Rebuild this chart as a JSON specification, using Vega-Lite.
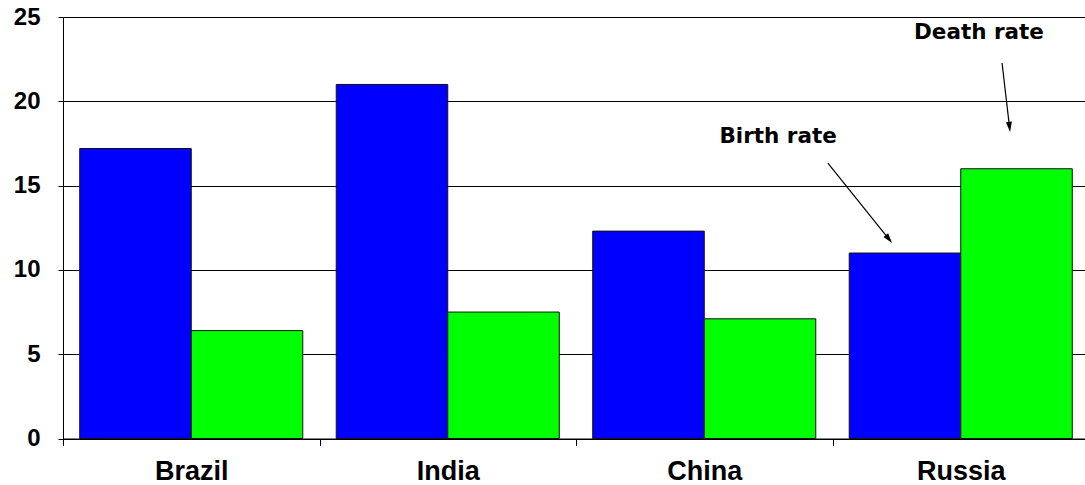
{
  "$schema": "https://vega.github.io/schema/vega-lite/v6.json",
  "width": 1026,
  "height": 421.5,
  "autosize": "none",
  "padding": {"left": 63, "top": 17, "right": 0, "bottom": 46.5},
  "background": "white",
  "config": {"view": {"stroke": null}, "font": "Liberation Sans"},
  "datasets": {
    "rates": [
      {"country": "Brazil", "rate": "Birth rate", "value": 17.2},
      {"country": "Brazil", "rate": "Death rate", "value": 6.4},
      {"country": "India", "rate": "Birth rate", "value": 21.0},
      {"country": "India", "rate": "Death rate", "value": 7.5},
      {"country": "China", "rate": "Birth rate", "value": 12.3},
      {"country": "China", "rate": "Death rate", "value": 7.1},
      {"country": "Russia", "rate": "Birth rate", "value": 11.0},
      {"country": "Russia", "rate": "Death rate", "value": 16.0}
    ],
    "notes": [
      {"note": "Birth rate", "tx": 2.788, "ty": 17.88, "ax": 2.982, "ay": 16.34, "hx": 3.22, "hy": 11.83},
      {"note": "Death rate", "tx": 3.571, "ty": 24.05, "ax": 3.661, "ay": 22.27, "hx": 3.69, "hy": 18.48}
    ]
  },
  "layer": [
    {
      "data": {"name": "rates"},
      "mark": {"type": "bar", "stroke": "#111111", "strokeWidth": 1},
      "encoding": {
        "x": {
          "field": "country",
          "type": "nominal",
          "sort": ["Brazil", "India", "China", "Russia"],
          "scale": {"paddingInner": 0, "paddingOuter": 0},
          "axis": {
            "title": null,
            "labelAngle": 0,
            "tickBand": "extent",
            "domainColor": "black",
            "domainWidth": 1,
            "tickColor": "black",
            "tickSize": 7,
            "labelFont": "Liberation Sans",
            "labelFontSize": 27,
            "labelFontWeight": "bold",
            "labelColor": "black",
            "labelPadding": 13
          }
        },
        "xOffset": {
          "field": "rate",
          "sort": ["Birth rate", "Death rate"],
          "scale": {"paddingInner": 0, "paddingOuter": 0.15}
        },
        "y": {
          "field": "value",
          "type": "quantitative",
          "scale": {"domain": [0, 25], "nice": false},
          "axis": {
            "title": null,
            "values": [0, 5, 10, 15, 20, 25],
            "grid": true,
            "gridColor": "black",
            "gridOpacity": 1,
            "gridWidth": 1,
            "domainColor": "black",
            "tickColor": "black",
            "tickSize": 5,
            "labelFont": "Liberation Sans",
            "labelFontSize": 24,
            "labelFontWeight": "bold",
            "labelColor": "black",
            "labelPadding": 18
          }
        },
        "color": {
          "field": "rate",
          "type": "nominal",
          "scale": {"domain": ["Birth rate", "Death rate"], "range": ["#0000FF", "#00FF00"]},
          "legend": null
        }
      }
    },
    {
      "data": {"name": "notes"},
      "mark": {"type": "text", "font": "DejaVu Sans", "fontSize": 21.5, "fontWeight": "bold", "color": "black", "align": "center", "baseline": "middle"},
      "encoding": {
        "x": {"field": "tx", "type": "quantitative", "scale": {"domain": [0, 4], "nice": false, "zero": false}, "axis": null},
        "y": {"field": "ty", "type": "quantitative"},
        "text": {"field": "note"}
      }
    },
    {
      "data": {"name": "notes"},
      "mark": {"type": "rule", "color": "black", "strokeWidth": 1.2},
      "encoding": {
        "x": {"field": "ax", "type": "quantitative", "scale": {"domain": [0, 4], "nice": false, "zero": false}, "axis": null},
        "y": {"field": "ay", "type": "quantitative"},
        "x2": {"field": "hx"},
        "y2": {"field": "hy"}
      }
    },
    {
      "data": {"name": "notes"},
      "transform": [{"filter": "datum.note == 'Birth rate'"}],
      "mark": {"type": "point", "shape": "M0,-1L0.6,1L-0.6,1Z", "filled": true, "color": "black", "opacity": 1, "size": 100, "angle": 141.3},
      "encoding": {
        "x": {"field": "hx", "type": "quantitative", "scale": {"domain": [0, 4], "nice": false, "zero": false}, "axis": null},
        "y": {"field": "hy", "type": "quantitative"}
      }
    },
    {
      "data": {"name": "notes"},
      "transform": [{"filter": "datum.note == 'Death rate'"}],
      "mark": {"type": "point", "shape": "M0,-1L0.6,1L-0.6,1Z", "filled": true, "color": "black", "opacity": 1, "size": 100, "angle": 173.4},
      "encoding": {
        "x": {"field": "hx", "type": "quantitative", "scale": {"domain": [0, 4], "nice": false, "zero": false}, "axis": null},
        "y": {"field": "hy", "type": "quantitative"}
      }
    }
  ],
  "resolve": {"scale": {"x": "independent"}}
}
